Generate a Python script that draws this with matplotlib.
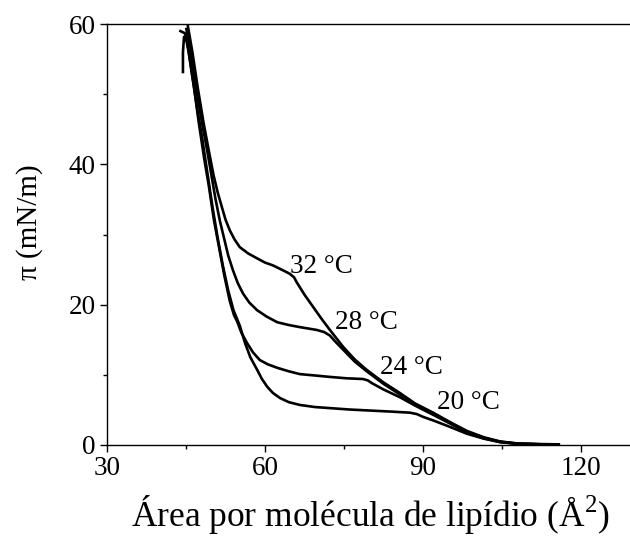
import matplotlib
matplotlib.use("Agg")
import matplotlib.pyplot as plt
from matplotlib.ticker import MultipleLocator

plt.rcParams['font.family'] = ['Liberation Serif', 'DejaVu Serif']
plt.rcParams['mathtext.fontset'] = 'custom'
plt.rcParams['mathtext.rm'] = 'Liberation Serif'

# isotherms: area (A^2) vs surface pressure (mN/m)
area_32 = [45.3, 46.2, 47.2, 48.3, 49.3, 50.2, 51.0, 51.8, 52.5, 53.3, 54.2, 55.2,
           56.8, 58.5, 60.0, 61.5, 63.4, 64.7, 65.5, 66.0, 67.5, 69.1, 70.7, 72.3,
           74.8, 77.0, 79.3, 82.5, 85.6, 88.5, 91.9, 95.0, 98.3, 101.5, 104.6, 108, 112, 116]
pi_32 = [59.9, 56.0, 51.0, 46.0, 42.0, 38.5, 36.0, 33.9, 32.1, 30.6, 29.3, 28.2,
         27.3, 26.6, 26.0, 25.6, 24.9, 24.4, 23.9, 23.2, 21.4, 19.7, 18.0, 16.4,
         14.0, 12.2, 10.7, 8.9, 7.4, 5.9, 4.6, 3.3, 2.0, 1.1, 0.5, 0.2, 0.12, 0.08]

area_28 = [45.0, 45.9, 46.9, 48.0, 49.0, 49.8, 50.6, 51.4, 52.2, 53.0, 53.9, 54.8,
           55.8, 57.0, 58.5, 60.3, 62.3, 64.5, 66.6, 69.8, 71.2, 72.3, 73.5, 74.8,
           77.0, 79.3, 82.5, 85.6, 88.5, 91.9, 95.0, 98.3, 101.5, 104.6, 108, 112, 116]
pi_28 = [59.5, 56.0, 51.0, 46.0, 42.0, 38.5, 35.0, 32.0, 29.5, 27.0, 24.9, 23.1,
         21.6, 20.3, 19.2, 18.3, 17.5, 17.1, 16.8, 16.4, 16.1, 15.6, 14.6, 13.6,
         11.9, 10.5, 8.7, 7.2, 5.8, 4.5, 3.2, 1.9, 1.0, 0.45, 0.18, 0.1, 0.07]

area_24 = [43.7, 44.8, 45.5, 46.5, 47.4, 48.4, 49.3, 50.3, 51.3, 52.3, 53.3, 54.1,
           54.7, 55.5, 56.6, 57.7, 59.0, 60.5, 62.3, 64.5, 66.6, 69.5, 72.3, 75.5,
           78.6, 79.5, 80.3, 82.5, 85.6, 88.5, 91.9, 95.0, 98.3, 101.5, 104.6, 108, 112, 116]
pi_24 = [59.1, 58.7, 56.0, 51.0, 46.0, 41.0, 37.0, 32.0, 28.0, 24.0, 20.5, 18.5,
         17.6, 16.0, 14.5, 13.2, 12.1, 11.5, 11.0, 10.5, 10.1, 9.9, 9.7, 9.5,
         9.4, 9.2, 8.8, 7.9, 6.8, 5.6, 4.3, 3.1, 1.8, 0.95, 0.42, 0.16, 0.09, 0.06]

area_20 = [44.4, 44.4, 44.6, 45.2, 46.1, 47.1, 48.0, 49.0, 50.0, 51.0, 52.0, 53.0,
           54.0, 55.2, 56.2, 57.2, 58.5, 59.4, 60.4, 61.5, 62.8, 64.5, 66.6, 69.5,
           72.3, 76.0, 80.0, 84.0, 87.5, 88.8, 90.0, 91.9, 95.0, 98.3, 101.5, 104.6,
           108, 112, 116]
pi_20 = [53.0, 56.0, 58.2, 57.5, 53.0, 48.0, 44.0, 39.0, 34.0, 29.5, 25.5, 22.0,
         19.2, 17.0, 14.5, 12.5, 10.7, 9.4, 8.3, 7.4, 6.7, 6.1, 5.7, 5.4,
         5.25, 5.05, 4.9, 4.75, 4.6, 4.4, 4.0, 3.5, 2.6, 1.6, 0.9, 0.4,
         0.15, 0.08, 0.05]

labels = ['32 °C', '28 °C', '24 °C', '20 °C']
label_x = [64.7, 73.3, 81.8, 92.6]
label_y = [25.4, 17.4, 11.1, 6.0]

fig = plt.figure(figsize=(6.3, 5.38), dpi=100)
ax = fig.add_axes([0.170, 0.173, 0.836, 0.782])

for xs, ys in [(area_32, pi_32), (area_28, pi_28), (area_24, pi_24), (area_20, pi_20)]:
    ax.plot(xs, ys, color='black', lw=1.9, solid_joinstyle='round', solid_capstyle='butt')

for t, x, y in zip(labels, label_x, label_y):
    ax.text(x, y, t, fontsize=19.5, ha='left', va='center')

ax.set_xlim(30, 130)
ax.set_ylim(0, 60)
ax.xaxis.set_major_locator(MultipleLocator(30))
ax.xaxis.set_minor_locator(MultipleLocator(15))
ax.yaxis.set_major_locator(MultipleLocator(20))
ax.yaxis.set_minor_locator(MultipleLocator(10))
ax.tick_params(which='major', direction='out', length=5, width=1, labelsize=19.5, pad=3)
ax.tick_params(which='minor', direction='out', length=3, width=1)
ax.spines['right'].set_visible(False)
for s in ['left', 'bottom', 'top']:
    ax.spines[s].set_linewidth(1.0)

ax.set_xlabel('Área por molécula de lipídio (Å$^{\\mathrm{2}}$)', fontsize=25.5)
ax.set_ylabel('π (mN/m)', fontsize=21)
ax.yaxis.set_label_coords(-0.121, 0.53)
ax.xaxis.set_label_coords(0.5, -0.115)

fig.savefig('out.png', dpi=100)
